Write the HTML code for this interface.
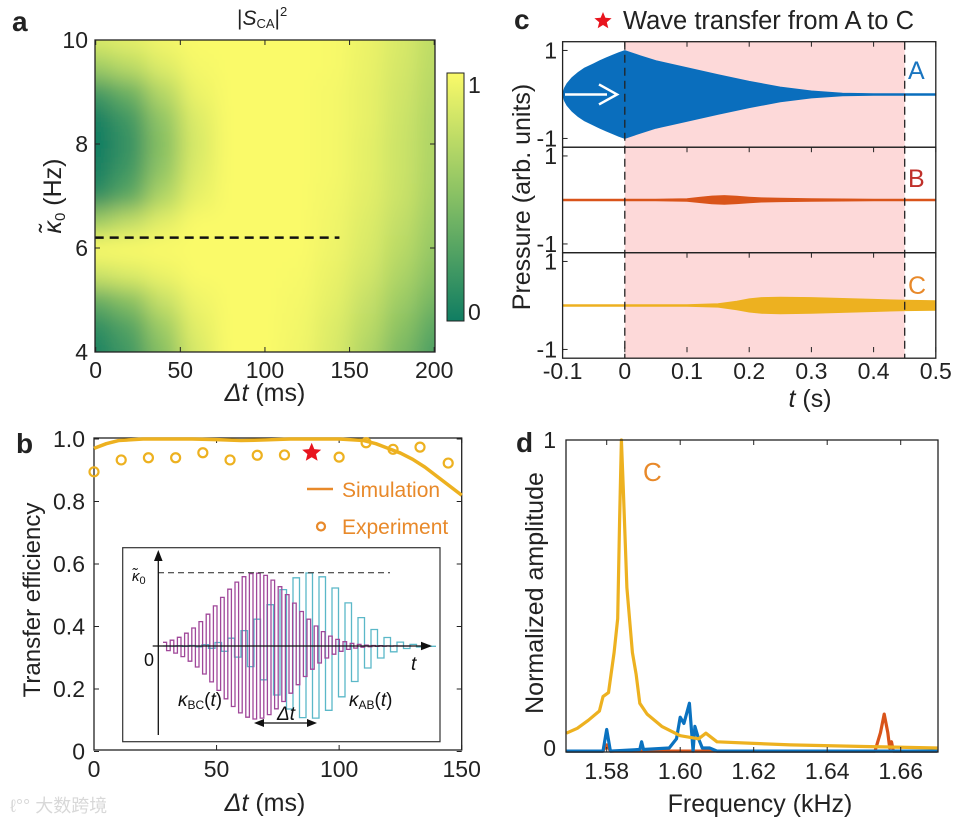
<!DOCTYPE html>
<html><head><meta charset="utf-8"><style>
html,body{margin:0;padding:0;background:#fff;}
svg{display:block;font-family:"Liberation Sans","Noto Sans CJK SC",sans-serif;}
</style></head><body>
<svg id="fig" width="956" height="823" viewBox="0 0 956 823" xmlns="http://www.w3.org/2000/svg">
<defs>
<filter id="blur" x="-20%" y="-20%" width="140%" height="140%"><feGaussianBlur stdDeviation="11"/></filter>
<clipPath id="clipA"><rect x="95" y="40" width="340" height="312"/></clipPath>
<linearGradient id="cbar" x1="0" y1="1" x2="0" y2="0">
<stop offset="0" stop-color="rgb(16,125,98)"/><stop offset="0.5" stop-color="rgb(135,192,100)"/><stop offset="1" stop-color="rgb(250,250,105)"/>
</linearGradient>
</defs>
<g id="gA"></g>
<g id="gB"></g>
<g id="gC"></g>
<g id="gD"></g>

<text x="12" y="31" font-size="28" font-weight="bold" fill="#222">a</text>
<text x="16" y="453" font-size="28" font-weight="bold" fill="#222">b</text>
<text x="514" y="29" font-size="28" font-weight="bold" fill="#222">c</text>
<text x="516" y="452" font-size="28" font-weight="bold" fill="#222">d</text>

<text x="237" y="25" font-size="21" fill="#222">|<tspan font-style="italic">S</tspan><tspan font-size="13" dy="3">CA</tspan><tspan dy="-3">|</tspan><tspan font-size="13" dy="-9">2</tspan></text>
<text transform="translate(61,196) rotate(-90)" text-anchor="middle" font-size="25" fill="#222"><tspan font-style="italic">κ̃</tspan><tspan font-size="15" dy="4">0</tspan><tspan dy="-4"> (Hz)</tspan></text>
<text x="265" y="401" text-anchor="middle" font-size="25" fill="#222"><tspan font-style="italic">Δt</tspan> (ms)</text>

<text transform="translate(40,600) rotate(-90)" text-anchor="middle" font-size="24" fill="#222">Transfer efficiency</text>
<text x="265" y="811" text-anchor="middle" font-size="25" fill="#222"><tspan font-style="italic">Δt</tspan> (ms)</text>

<text x="623" y="29" font-size="25.5" fill="#222">Wave transfer from A to C</text>
<text transform="translate(530,197) rotate(-90)" text-anchor="middle" font-size="25" fill="#222">Pressure (arb. units)</text>
<text x="810" y="407" text-anchor="middle" font-size="25" fill="#222"><tspan font-style="italic">t</tspan> (s)</text>

<text transform="translate(543,593) rotate(-90)" text-anchor="middle" font-size="25" fill="#222">Normalized amplitude</text>
<text x="760" y="812" text-anchor="middle" font-size="25" fill="#222">Frequency (kHz)</text>

<text x="10" y="812" font-size="18" fill="#d8d8d8">ℓ°° 大数跨境</text>

<g id="insetLabels" fill="#111">
<text x="132" y="581" font-size="15" font-style="italic">κ̃<tspan font-size="11" font-style="normal" dy="3">0</tspan></text>
<text x="144" y="666" font-size="18">0</text>
<text x="411" y="670" font-size="19" font-style="italic">t</text>
<text x="178" y="706" font-size="19"><tspan font-style="italic">κ</tspan><tspan font-size="12" dy="3">BC</tspan><tspan dy="-3">(</tspan><tspan font-style="italic">t</tspan>)</text>
<text x="349" y="706" font-size="19"><tspan font-style="italic">κ</tspan><tspan font-size="12" dy="3">AB</tspan><tspan dy="-3">(</tspan><tspan font-style="italic">t</tspan>)</text>
<text x="277" y="720" font-size="19" font-style="italic">Δt</text>
</g>
</svg>
<script>
// ===== Panel A data =====
const aDt = [0,20,40,60,80,100,120,140,160,180,200];
const aK = [4,4.5,5,5.5,6,6.5,7,7.5,8,8.5,9,9.5,10];
const aValues = [
[0.05,0.2,0.5,0.85,1,1,0.96,0.86,0.68,0.45,0.25],
[0.12,0.28,0.6,0.9,1,1,0.97,0.88,0.73,0.52,0.32],
[0.35,0.5,0.78,0.95,1,1,0.98,0.91,0.78,0.6,0.42],
[0.8,0.87,0.94,1,1,1,0.99,0.93,0.83,0.67,0.5],
[1,1,1,1,1,1,1,0.95,0.86,0.72,0.56],
[0.6,0.75,0.9,1,1,1,1,0.96,0.88,0.76,0.6],
[0.12,0.32,0.68,0.92,1,1,1,0.97,0.9,0.79,0.64],
[0.02,0.2,0.55,0.88,1,1,1,0.98,0.91,0.8,0.66],
[0,0.15,0.5,0.85,1,1,1,0.98,0.91,0.8,0.67],
[0.02,0.2,0.55,0.88,1,1,1,0.98,0.92,0.81,0.68],
[0.2,0.38,0.7,0.94,1,1,1,0.98,0.92,0.82,0.7],
[0.6,0.72,0.88,0.98,1,1,1,0.99,0.93,0.84,0.72],
[0.85,0.9,0.96,1,1,1,1,0.99,0.94,0.85,0.74]];
const aXTicks = [0,50,100,150,200];
const aYTicks = [4,6,8,10];
const aDashK = 6.2;
const aDashEnd = 144;
// ===== Panel B data =====
const bSimDt = [0,5,10,20,30,40,50,60,70,80,90,100,110,115,120,125,130,135,140,145,150];
const bSimVal = [0.97,0.985,0.995,1.0,1.0,1.0,0.998,0.995,0.997,1.0,1.0,1.0,0.995,0.985,0.97,0.955,0.935,0.91,0.88,0.85,0.82];
const bExpDt = [0,11.1,22.2,33.3,44.4,55.5,66.6,77.7,100,111,122,133,144.5];
const bExpVal = [0.895,0.933,0.94,0.94,0.956,0.933,0.948,0.949,0.942,0.988,0.967,0.974,0.923];
const bStar = [88.8,0.956];
const bXTicks = [0,50,100,150];
const bYTicks = [0,0.2,0.4,0.6,0.8,1.0];
const bYLabels = ['0','0.2','0.4','0.6','0.8','1.0'];
// ===== Panel C data =====
const cXTicks = [-0.1,0,0.1,0.2,0.3,0.4,0.5];
const cATime = [-0.1,-0.097,-0.093,-0.085,-0.075,-0.065,-0.05,-0.04,-0.03,-0.02,-0.01,0,0.025,0.05,0.075,0.1,0.15,0.2,0.25,0.3,0.35,0.4,0.5];
const cAAmp = [0,0.15,0.25,0.38,0.5,0.6,0.7,0.77,0.83,0.89,0.95,1,0.88,0.77,0.69,0.61,0.45,0.3,0.17,0.08,0.03,0.02,0.02];
const cBTime = [-0.1,0.05,0.1,0.12,0.14,0.16,0.18,0.2,0.22,0.25,0.3,0.4,0.5];
const cBAmp = [0.02,0.02,0.03,0.06,0.09,0.1,0.085,0.065,0.05,0.04,0.03,0.02,0.02];
const cCTime = [-0.1,0.1,0.15,0.18,0.2,0.22,0.25,0.3,0.35,0.4,0.45,0.5];
const cCAmp = [0.02,0.02,0.04,0.1,0.15,0.18,0.19,0.18,0.16,0.14,0.12,0.11];
const cShade = [0,0.45];
// ===== Panel D data =====
const dXTicks = [1.58,1.60,1.62,1.64,1.66];
const dYFreq = [1.569,1.572,1.575,1.578,1.579,1.5805,1.582,1.583,1.5835,1.584,1.5845,1.5855,1.587,1.588,1.589,1.591,1.595,1.6,1.605,1.607,1.61,1.62,1.63,1.65,1.67];
const dYAmp = [0.048,0.064,0.09,0.12,0.167,0.18,0.31,0.42,0.74,1.0,0.85,0.52,0.31,0.24,0.145,0.11,0.07,0.04,0.03,0.048,0.02,0.015,0.01,0.005,0.0];
const dBFreq = [1.569,1.579,1.58,1.581,1.589,1.5895,1.590,1.597,1.599,1.600,1.601,1.6025,1.6035,1.604,1.605,1.606,1.608,1.61,1.64,1.67];
const dBAmp = [-0.01,-0.01,0.06,-0.01,-0.005,0.02,-0.005,0.0,0.03,0.1,0.08,0.145,-0.01,0.07,0.03,0.0,0.0,-0.01,-0.01,-0.01];
const dRFreq = [1.569,1.579,1.58,1.581,1.63,1.653,1.6545,1.6555,1.6565,1.657,1.6575,1.658,1.67];
const dRAmp = [-0.01,-0.01,0.01,-0.01,-0.01,-0.01,0.05,0.11,0.05,0.0,0.02,-0.01,-0.01];

const NS = 'http://www.w3.org/2000/svg';
const TF = 23;
function el(tag, attrs, parent){ const e=document.createElementNS(NS,tag); for(const k in attrs) e.setAttribute(k,attrs[k]); parent.appendChild(e); return e; }
function cmap(v){ v=Math.max(0,Math.min(1,v)); let a,b,t;
 const s0=[16,125,98], s1=[135,192,100], s2=[250,250,105];
 if(v<0.5){a=s0;b=s1;t=v/0.5;} else {a=s1;b=s2;t=(v-0.5)/0.5;}
 return 'rgb('+a.map((c,i)=>Math.round(c+(b[i]-c)*t)).join(',')+')'; }
function fmt(v,d){ return v.toFixed(d); }
function starPts(px,py,R,r){ const p=[]; for(let i=0;i<10;i++){ const a=-Math.PI/2+i*Math.PI/5; const rr=i%2?r:R; p.push((px+rr*Math.cos(a)).toFixed(1)+','+(py+rr*Math.sin(a)).toFixed(1)); } return p.join(' '); }

// ---------- Panel A ----------
const gA = document.getElementById('gA');
const ax = d => 95.7 + d*1.6925;
const ay = k => 352 - (k-4)*52;
const hm = el('g',{'clip-path':'url(#clipA)'},gA);


const hmInner = el('g',{filter:'url(#blur)'},hm);
aK.forEach((k,ri)=>{ aDt.forEach((d,ci)=>{
  let x0 = ax(d-10), x1 = ax(d+10), y0 = ay(k+0.25), y1 = ay(k-0.25);
  if(ci===0) x0-=40; if(ci===aDt.length-1) x1+=40;
  if(ri===0) y1+=40; if(ri===aK.length-1) y0-=40;
  const r = el('rect',{x:x0,y:y0,width:x1-x0+0.5,height:y1-y0+0.5,fill:cmap(aValues[ri][ci])},hmInner);
  
  
});});
const dash = el('line',{x1:ax(0)-1,x2:ax(aDashEnd),y1:ay(aDashK),y2:ay(aDashK),stroke:'#111','stroke-width':2.5,'stroke-dasharray':'9,6'},gA);


const boxA = el('rect',{x:95,y:40,width:340,height:312,fill:'none',stroke:'#222','stroke-width':1.3},gA);


aXTicks.forEach(v=>{ const x=ax(v);
  const t1=el('line',{x1:x,x2:x,y1:352,y2:347,stroke:'#222'},gA);
   
  const t2=el('line',{x1:x,x2:x,y1:40,y2:45,stroke:'#222'},gA);
   
  const tl=el('text',{x:x,y:378,'text-anchor':'middle','font-size':TF,fill:'#222'},gA); tl.textContent=v;
   
});
aYTicks.forEach(v=>{ const y=ay(v);
  const t1=el('line',{x1:95,x2:100,y1:y,y2:y,stroke:'#222'},gA);
   
  const t2=el('line',{x1:435,x2:430,y1:y,y2:y,stroke:'#222'},gA);
   
  const tl=el('text',{x:88,y:y+8,'text-anchor':'end','font-size':TF,fill:'#222'},gA); tl.textContent=v;
   
});
const cb = el('rect',{x:447,y:73,width:17,height:248,fill:'url(#cbar)',stroke:'#222','stroke-width':1},gA);


[[1,93],[0,320]].forEach(p=>{ const tl=el('text',{x:468,y:p[1],'font-size':TF,fill:'#222'},gA); tl.textContent=p[0];
    });

// ---------- Panel B ----------
const gB = document.getElementById('gB');
const bx = d => 94 + d*2.4513;
const by = v => 751.5 - v*312.5;
const boxB = el('rect',{x:94,y:438,width:367.7,height:312,fill:'none',stroke:'#222','stroke-width':1.3},gB);


bXTicks.forEach(v=>{ const x=bx(v);
  const t1=el('line',{x1:x,x2:x,y1:750,y2:745,stroke:'#222'},gB);
   
  const t2=el('line',{x1:x,x2:x,y1:438,y2:443,stroke:'#222'},gB);
   
  const tl=el('text',{x:x,y:777,'text-anchor':'middle','font-size':TF,fill:'#222'},gB); tl.textContent=v;
   
});
bYTicks.forEach((v,i)=>{ const y=by(v);
  const t1=el('line',{x1:94,x2:99,y1:y,y2:y,stroke:'#222'},gB);
   
  const t2=el('line',{x1:461.7,x2:456.7,y1:y,y2:y,stroke:'#222'},gB);
   
  const tl=el('text',{x:85,y:y+8,'text-anchor':'end','font-size':TF,fill:'#222'},gB); tl.textContent=bYLabels[i];
   
});
const sim = el('polyline',{points:bSimDt.map((d,i)=>bx(d)+','+by(bSimVal[i])).join(' '),fill:'none',stroke:'#edb120','stroke-width':3.5,'stroke-linejoin':'round'},gB);


bExpDt.forEach((d,i)=>{ const c=el('circle',{cx:bx(d),cy:by(bExpVal[i]),r:4.5,fill:'none',stroke:'#edb120','stroke-width':2.2},gB);
    });
const st = el('polygon',{points:starPts(bx(bStar[0]),by(bStar[1]),10,4.5),fill:'#e8141e'},gB);


// legend
const lg = el('g',{},gB);


const ll = el('line',{x1:307,x2:333,y1:489,y2:489,stroke:'#e8892a','stroke-width':2.5},lg);
 
const lt1 = el('text',{x:342,y:497,'font-size':21,fill:'#e8892a'},lg); lt1.textContent='Simulation';
 
const lc = el('circle',{cx:321,cy:526.5,r:4,fill:'none',stroke:'#e8892a','stroke-width':2.2},lg);
 
const lt2 = el('text',{x:342,y:534,'font-size':21,fill:'#e8892a'},lg); lt2.textContent='Experiment';
 
// inset
const ins = el('g',{},gB);


const ib = el('rect',{x:122.7,y:547.7,width:317.3,height:194,fill:'#fff',stroke:'#333','stroke-width':1.2},ins);
 
function wave(c,hp,x0,x1,color,name){
  const pts=[]; let s=1; const env=x=>73*Math.exp(-Math.pow((x-c)/52.7,2));
  for(let x=x0;x<x1;x+=hp){ const e=env(x+hp/2)*s; pts.push(x.toFixed(1)+','+(646-e).toFixed(1)); pts.push((x+hp).toFixed(1)+','+(646-e).toFixed(1)); s=-s; }
  const p=el('polyline',{points:pts.join(' '),fill:'none',stroke:color,'stroke-width':1.3},ins);
   
}
wave(310,6.5,163,432,'#5bb8c8','kappa-ab-wave');
wave(256,3.6,163,410,'#a0489a','kappa-bc-wave');
const idash = el('line',{x1:158,x2:390,y1:572.7,y2:572.7,stroke:'#222','stroke-width':1,'stroke-dasharray':'6,4'},ins);
 
const iv = el('line',{x1:158.3,x2:158.3,y1:735,y2:556,stroke:'#111','stroke-width':1.3},ins);
 
const iva = el('polygon',{points:'158.3,550 154,561 162.6,561',fill:'#111'},ins);
 
const ih = el('line',{x1:152.7,x2:426,y1:646,y2:646,stroke:'#111','stroke-width':1.3},ins);
 
const iha = el('polygon',{points:'432,646 421,641.7 421,650.3',fill:'#111'},ins);
 
const da = el('line',{x1:262,x2:310,y1:723,y2:723,stroke:'#111','stroke-width':1.3},ins);
 
const da1 = el('polygon',{points:'254,723 264,719 264,727',fill:'#111'},ins);
 
const da2 = el('polygon',{points:'317,723 307,719 307,727',fill:'#111'},ins);
 

// ---------- Panel C ----------
const gC = document.getElementById('gC');
const cxf = t => 624.8 + t*622;
const cTops = [41.7,147.2,252.7];
const cH = 105.5;
const shade = el('rect',{x:cxf(cShade[0]),y:41.7,width:cxf(cShade[1])-cxf(cShade[0]),height:3*cH,fill:'#fdd9d9'},gC);


const series = [[cATime,cAAmp,'#0a6ebd','signal-a'],[cBTime,cBAmp,'#d9541a','signal-b'],[cCTime,cCAmp,'#edb120','signal-c']];
series.forEach((s,i)=>{ const ctr=cTops[i]+cH/2; const sc=44;
  const up=s[0].map((t,j)=>cxf(t).toFixed(1)+','+(ctr-Math.max(s[1][j],0.015)*sc).toFixed(1));
  const dn=s[0].map((t,j)=>cxf(t).toFixed(1)+','+(ctr+Math.max(s[1][j],0.015)*sc).toFixed(1)).reverse();
  const p=el('polygon',{points:up.concat(dn).join(' '),fill:s[2],stroke:s[2],'stroke-width':0.8},gC);
   
});
cShade.forEach(t=>{ const l=el('line',{x1:cxf(t),x2:cxf(t),y1:41.7,y2:41.7+3*cH,stroke:'#222','stroke-width':1.3,'stroke-dasharray':'8,5'},gC);
    });
cTops.forEach((top,i)=>{ const ctr=top+cH/2;
  const b=el('rect',{x:562.6,y:top,width:373.2,height:cH,fill:'none',stroke:'#222','stroke-width':1.3},gC);
   
  [1,-1].forEach(v=>{ const y=ctr-v*44;
    const tk=el('line',{x1:562.6,x2:567.6,y1:y,y2:y,stroke:'#222'},gC);
     
    const tl=el('text',{x:557,y:y+8,'text-anchor':'end','font-size':TF,fill:'#222'},gC); tl.textContent=v;
      });
  cXTicks.forEach(t=>{ const tk=el('line',{x1:cxf(t),x2:cxf(t),y1:top,y2:top+5,stroke:'#222'},gC);
      });
});
cXTicks.forEach(t=>{ const tk=el('line',{x1:cxf(t),x2:cxf(t),y1:352.2,y2:347,stroke:'#222'},gC);
   
  const tl=el('text',{x:cxf(t),y:379,'text-anchor':'middle','font-size':TF,fill:'#222'},gC); tl.textContent=(t===0?'0':String(Math.round(t*10)/10));
    });
const actr = cTops[0]+cH/2;
const arrow = el('line',{x1:565,x2:607,y1:actr,y2:actr,stroke:'#fff','stroke-width':2.5},gC);
 
const arrowH = el('polyline',{points:'599,'+(actr-10)+' 617,'+actr+' 599,'+(actr+10),fill:'none',stroke:'#fff','stroke-width':2.5},gC);
 
[['A','#1a75c0',79],['B','#c0302a',187],['C','#e8892a',294]].forEach(a=>{
  const t=el('text',{x:908,y:a[2],'font-size':25,fill:a[1]},gC); t.textContent=a[0];
    });
const cst = el('polygon',{points:starPts(603,21,9,4),fill:'#e8141e'},gC);
 

// ---------- Panel D ----------
const gD = document.getElementById('gD');
const dx = f => 606.7 + (f-1.58)*3675;
const dy = v => 748 - v*308;
[[dRFreq,dRAmp,'#d9541a','spectrum-b'],[dBFreq,dBAmp,'#0a72c0','spectrum-a'],[dYFreq,dYAmp,'#edb120','spectrum-c']].forEach(s=>{
  const p=el('polyline',{points:s[0].map((f,i)=>dx(f).toFixed(1)+','+dy(s[1][i]).toFixed(1)).join(' '),fill:'none',stroke:s[2],'stroke-width':3.2,'stroke-linejoin':'round'},gD);
   
});
const boxD = el('rect',{x:566,y:440,width:372,height:312,fill:'none',stroke:'#222','stroke-width':1.3},gD);
 
dXTicks.forEach(f=>{ const x=dx(f);
  const t1=el('line',{x1:x,x2:x,y1:752,y2:747,stroke:'#222'},gD);
   
  const t2=el('line',{x1:x,x2:x,y1:440,y2:445,stroke:'#222'},gD);
   
  const tl=el('text',{x:x,y:779,'text-anchor':'middle','font-size':TF,fill:'#222'},gD); tl.textContent=fmt(f,2);
    });
[0,1].forEach(v=>{ const y=dy(v);
  const tl=el('text',{x:556,y:y+8,'text-anchor':'end','font-size':TF,fill:'#222'},gD); tl.textContent=v;
    });
const dlab = el('text',{x:643,y:481,'font-size':26,fill:'#e8892a'},gD); dlab.textContent='C';
 
</script>
</body></html>
